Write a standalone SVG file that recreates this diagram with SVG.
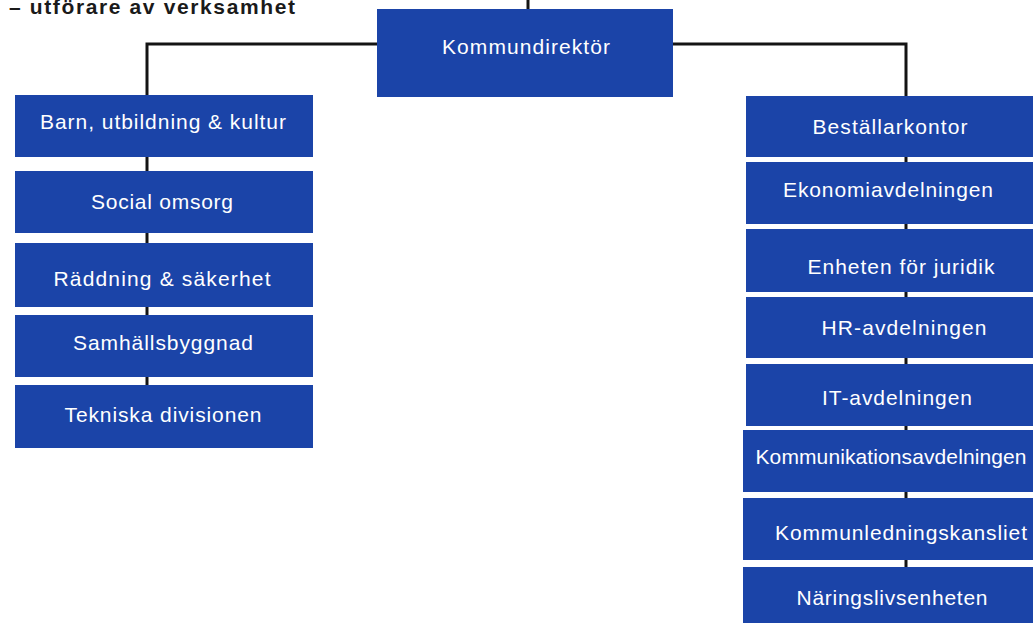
<svg xmlns="http://www.w3.org/2000/svg" width="1033" height="623" viewBox="0 0 1033 623">
<style>
.box{fill:#1b44a8}
.lbl{font-family:"Liberation Sans",Arial,sans-serif;font-size:21px;fill:#ffffff;text-anchor:middle}
.ttl{font-family:"Liberation Sans",Arial,sans-serif;font-size:21px;font-weight:bold;fill:#1a1a1a}
.con{stroke:#141414;stroke-width:3;fill:none}
</style>
<rect width="1033" height="623" fill="#ffffff"/>
<text class="ttl" x="9" y="14" textLength="286" lengthAdjust="spacing">– utförare av verksamhet</text>
<g id="connectors">
<path class="con" d="M528 0V12"/>
<path class="con" d="M380 44H147V390"/>
<path class="con" d="M670 44H906V570"/>
</g>
<g id="n-kd"><rect class="box" x="377" y="9" width="296" height="88"/><text class="lbl" x="526" y="54" textLength="168" lengthAdjust="spacing">Kommundirektör</text></g>
<g id="n-buk"><rect class="box" x="15" y="95" width="298" height="62"/><text class="lbl" x="163" y="129" textLength="246" lengthAdjust="spacing">Barn, utbildning &amp; kultur</text></g>
<g id="n-so"><rect class="box" x="15" y="171" width="298" height="62"/><text class="lbl" x="162" y="209" textLength="142" lengthAdjust="spacing">Social omsorg</text></g>
<g id="n-rs"><rect class="box" x="15" y="243" width="298" height="64"/><text class="lbl" x="162" y="286" textLength="217" lengthAdjust="spacing">Räddning &amp; säkerhet</text></g>
<g id="n-sb"><rect class="box" x="15" y="315" width="298" height="62"/><text class="lbl" x="163" y="350" textLength="180" lengthAdjust="spacing">Samhällsbyggnad</text></g>
<g id="n-td"><rect class="box" x="15" y="385" width="298" height="63"/><text class="lbl" x="163" y="422" textLength="197" lengthAdjust="spacing">Tekniska divisionen</text></g>
<g id="n-bk"><rect class="box" x="746" y="96" width="295" height="61"/><text class="lbl" x="890" y="134" textLength="155" lengthAdjust="spacing">Beställarkontor</text></g>
<g id="n-ek"><rect class="box" x="746" y="162" width="295" height="62"/><text class="lbl" x="888" y="197" textLength="210" lengthAdjust="spacing">Ekonomiavdelningen</text></g>
<g id="n-ej"><rect class="box" x="746" y="229" width="295" height="63"/><text class="lbl" x="901" y="274" textLength="187" lengthAdjust="spacing">Enheten för juridik</text></g>
<g id="n-hr"><rect class="box" x="746" y="297" width="295" height="61"/><text class="lbl" x="904" y="335" textLength="165" lengthAdjust="spacing">HR-avdelningen</text></g>
<g id="n-it"><rect class="box" x="746" y="364" width="295" height="62"/><text class="lbl" x="897" y="405" textLength="150" lengthAdjust="spacing">IT-avdelningen</text></g>
<g id="n-ka"><rect class="box" x="743" y="430" width="298" height="62"/><text class="lbl" x="891" y="464" textLength="271" lengthAdjust="spacing">Kommunikationsavdelningen</text></g>
<g id="n-kl"><rect class="box" x="743" y="498" width="298" height="62"/><text class="lbl" x="901" y="540" textLength="252" lengthAdjust="spacing">Kommunledningskansliet</text></g>
<g id="n-ne"><rect class="box" x="743" y="567" width="298" height="60"/><text class="lbl" x="892" y="605" textLength="191" lengthAdjust="spacing">Näringslivsenheten</text></g>
</svg>
